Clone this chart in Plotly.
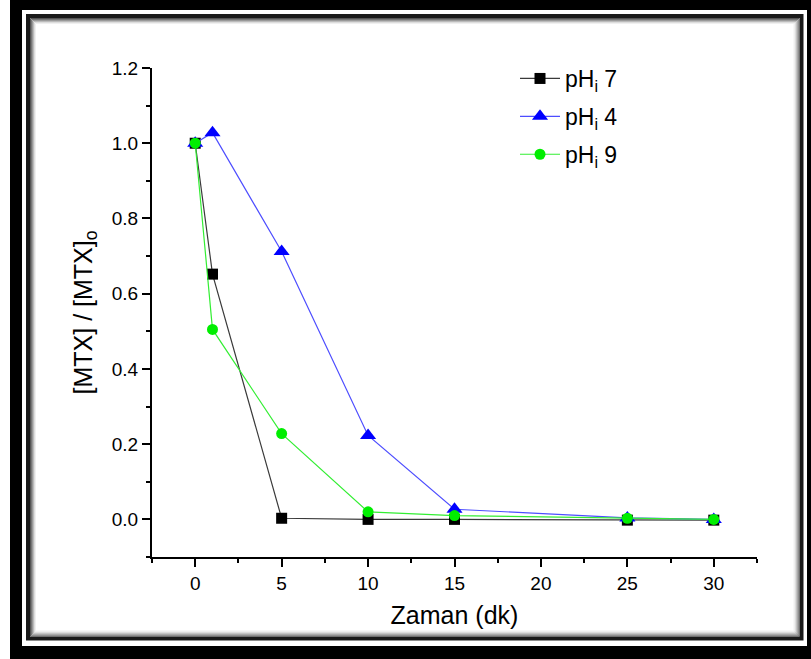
import plotly.graph_objects as go

time_min = [0, 1, 5, 10, 15, 25, 30]
ph7 = [1.0, 0.652, 0.003, 0.0, 0.0, -0.002, -0.002]
ph4 = [1.0, 1.028, 0.712, 0.223, 0.027, 0.004, 0.0]
ph9 = [1.0, 0.505, 0.228, 0.02, 0.01, 0.003, 0.0]
series_names = ["pH<sub>i</sub> 7", "pH<sub>i</sub> 4", "pH<sub>i</sub> 9"]

W, H = 811, 659
L, R, T, B = 152, 54, 68, 102
PW, PH = W - L - R, H - T - B


def px(x):
    return (x - L) / PW


def py(y):
    return 1 - (y - T) / PH


FONT = "Liberation Sans, Arial, sans-serif"

fig = go.Figure()
fig.add_trace(go.Scatter(x=time_min, y=ph7, name=series_names[0], mode="lines+markers",
                         line=dict(color="#3a3a3a", width=1.2),
                         marker=dict(symbol="square", size=11, color="black"),
                         legendgroup="a"))
fig.add_trace(go.Scatter(x=time_min, y=ph4, name=series_names[1], mode="lines+markers",
                         line=dict(color="#4d4dff", width=1.2),
                         marker=dict(symbol="triangle-up", size=14, color="#0000ff"),
                         legendgroup="b"))
fig.add_trace(go.Scatter(x=time_min, y=ph9, name=series_names[2], mode="lines+markers",
                         line=dict(color="#33ee33", width=1.2),
                         marker=dict(symbol="circle", size=11, color="#00ee00"),
                         legendgroup="c"))

shapes = []


def rect(x0, y0, x1, y1, fill=None, line=None, lw=0):
    d = dict(type="rect", xref="paper", yref="paper",
             x0=px(x0), x1=px(x1), y0=py(y1), y1=py(y0), layer="above")
    if fill:
        d["fillcolor"] = fill
    d["line"] = dict(color=line or "rgba(0,0,0,0)", width=lw)
    shapes.append(d)


# outer black frame
rect(10, 0, 22, 659, fill="black")
rect(10, 0, 811, 10, fill="black")
rect(807, 0, 811, 659, fill="black")
rect(10, 646, 811, 659, fill="black")
# inner dark border
rect(28, 16, 801.5, 638.5, line="#1a1a1a", lw=4)
# inner shadow
shade = ["#555555", "#777777", "#999999", "#bbbbbb", "#dddddd", "#f0f0f0"]
for i, c in enumerate(shade):
    rect(30.5 + i, 18.5 + i, 799 - i, 636 - i, line=c, lw=1)

fig.update_layout(
    width=W, height=H,
    margin=dict(l=L, r=R, t=T, b=B),
    paper_bgcolor="white", plot_bgcolor="white",
    font=dict(family=FONT, size=19, color="black"),
    shapes=shapes,
    showlegend=True,
    legend=dict(x=px(515), y=py(57), xanchor="left", yanchor="top",
                font=dict(size=23, family=FONT), bgcolor="rgba(0,0,0,0)",
                tracegroupgap=5, traceorder="grouped", itemwidth=40),
    xaxis=dict(range=[-2.5, 32.5], tickmode="linear", tick0=0, dtick=5,
               showgrid=False, zeroline=False, showline=True, linecolor="black", linewidth=2,
               ticks="outside", ticklen=8, tickwidth=2, tickcolor="black",
               minor=dict(ticks="outside", ticklen=4, tickwidth=2, tickcolor="black", dtick=2.5, tick0=0, showgrid=False),
               title=dict(text="Zaman (dk)", font=dict(size=25), standoff=14),
               tickfont=dict(size=19)),
    yaxis=dict(range=[-0.1, 1.2], tickmode="linear", tick0=0, dtick=0.2, tickformat=".1f",
               showgrid=False, zeroline=False, showline=True, linecolor="black", linewidth=2,
               ticks="outside", ticklen=8, tickwidth=2, tickcolor="black",
               minor=dict(ticks="outside", ticklen=4, tickwidth=2, tickcolor="black", dtick=0.1, tick0=0, showgrid=False),
               title=dict(text="[MTX] / [MTX]<sub>o</sub>", font=dict(size=25), standoff=12),
               tickfont=dict(size=19)),
)

fig.write_html("out.html", config={"displayModeBar": False},
               post_script="document.body.style.margin='0';document.body.style.overflow='hidden';")
